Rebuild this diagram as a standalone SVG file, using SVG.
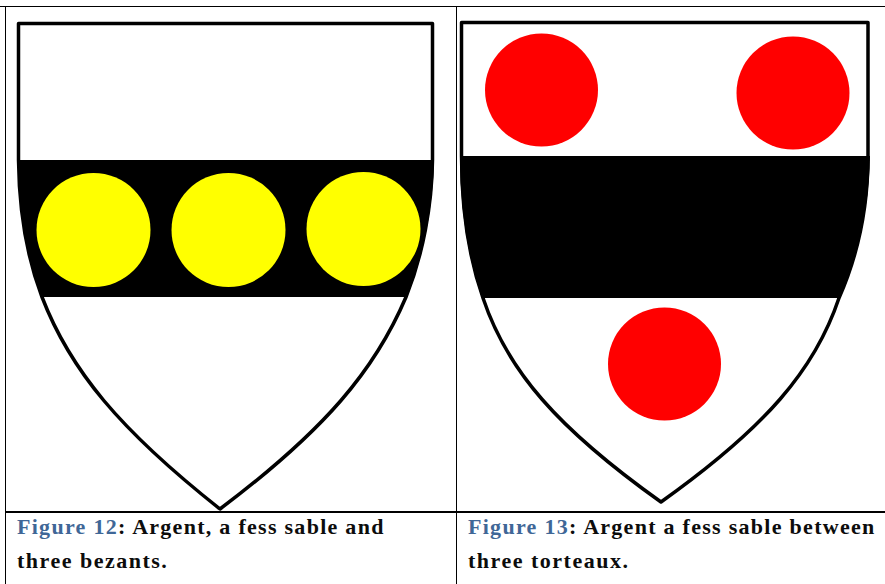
<svg xmlns="http://www.w3.org/2000/svg" width="885" height="584" viewBox="0 0 885 584">
<style>
.rule{stroke:#000;stroke-width:1;fill:none}
.shield{fill:#fff;stroke:#000;stroke-width:3.5;stroke-linejoin:round}
.band{fill:#000;stroke:none}
.y{fill:#ff0}
.r{fill:#f00}
text{font-family:"Liberation Serif","Times New Roman",serif;font-weight:700;font-size:22px;letter-spacing:1.28px;fill:#0c0c0c}
.second{letter-spacing:1.5px}
.fig{fill:#3f6797}
</style>
<rect width="885" height="584" fill="#fff"/>
<g id="table">
<path class="rule" d="M0 6.500H885M5.500 6.500V584M456.500 6.500V584"/>
<path d="M5 512H885" stroke="#000" stroke-width="2" fill="none"/>
</g>
<g id="shield-12">
<path class="shield" d="M18.500 23.500H432.500V160C432 205 423 255 406 297C375 370 325 430 220 509C120 430 70 370 42 297C26 255 19 205 18.500 160Z"/>
<path class="band" d="M18 160H434C433 205 424 255 407 297H41C26 255 19 205 18 160Z"/>
<circle class="y" cx="93.500" cy="230" r="57"/>
<circle class="y" cx="228.500" cy="230" r="57"/>
<circle class="y" cx="363.500" cy="229" r="57"/>
</g>
<g id="shield-13">
<path class="shield" d="M461.500 22.500H868V156C868 205 858 255 839 298C815 370 765 428 661 502C557 428 507 370 483 298C468 255 461.500 205 461.500 156Z"/>
<path class="band" d="M460 156H870C869 205 859 255 840 298H482C467 255 460 205 460 156Z"/>
<circle class="r" cx="541.500" cy="90" r="56.500"/>
<circle class="r" cx="793" cy="93" r="56.500"/>
<circle class="r" cx="664.500" cy="364" r="56.500"/>
</g>
<g id="caption-12">
<text x="17" y="534"><tspan class="fig">Figure 12</tspan>: Argent, a fess sable and</text>
<text class="second" x="17" y="568">three bezants.</text>
</g>
<g id="caption-13">
<text x="468" y="534"><tspan class="fig">Figure 13</tspan>: Argent a fess sable between</text>
<text class="second" x="468" y="568">three torteaux.</text>
</g>
</svg>
